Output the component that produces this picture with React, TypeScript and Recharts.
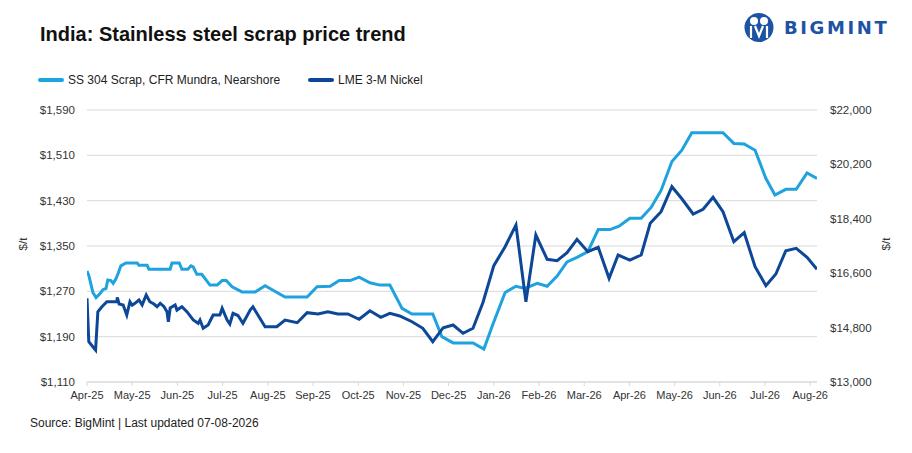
import React from "react";
import { LineChart, Line, XAxis, YAxis, CartesianGrid } from "recharts";

const monthLabels = [
  "Apr-25", "May-25", "Jun-25", "Jul-25", "Aug-25", "Sep-25", "Oct-25", "Nov-25", "Dec-25",
  "Jan-26", "Feb-26", "Mar-26", "Apr-26", "May-26", "Jun-26", "Jul-26", "Aug-26",
];
const leftTicks = [1110, 1190, 1270, 1350, 1430, 1510, 1590];
const rightTicks = [13000, 14800, 16600, 18400, 20200, 22000];

// x = months since Apr-25
const scrapMonths = [
  0, 0.04, 0.13, 0.2, 0.29, 0.35, 0.42, 0.46, 0.53, 0.58, 0.64, 0.69, 0.75, 0.86, 1.11, 1.15,
  1.33, 1.37, 1.84, 1.88, 2.04, 2.1, 2.23, 2.3, 2.35, 2.43, 2.54, 2.72, 2.88, 2.99, 3.08, 3.21,
  3.43, 3.72, 3.94, 4.38, 4.87, 5.09, 5.38, 5.58, 5.82, 6.02, 6.26, 6.48, 6.7, 6.97, 7.19, 7.65,
  7.85, 8.1, 8.54, 8.78, 8.98, 9.25, 9.49, 9.69, 9.96, 10.18, 10.4, 10.62, 10.84, 11.08, 11.31,
  11.57, 11.77, 12.01, 12.26, 12.48, 12.7, 12.94, 13.16, 13.38, 14.07, 14.31, 14.54, 14.78, 15.02,
  15.22, 15.46, 15.69, 15.93, 16.15,
];
const scrapPrices = [
  1306, 1298, 1268, 1259, 1266, 1273, 1275, 1290, 1289, 1284, 1292, 1302, 1315, 1320, 1320, 1316,
  1316, 1309, 1309, 1320, 1320, 1309, 1309, 1315, 1313, 1300, 1300, 1281, 1281, 1289, 1289, 1278,
  1269, 1269, 1280, 1260, 1260, 1278, 1279, 1289, 1289, 1295, 1285, 1281, 1281, 1240, 1230, 1230,
  1190, 1179, 1179, 1168, 1212, 1268, 1279, 1275, 1284, 1279, 1297, 1322, 1330, 1340, 1379,
  1379, 1385, 1399, 1399, 1418, 1448, 1499, 1519, 1550, 1550, 1531, 1530, 1519, 1469,
  1440, 1450, 1450, 1479, 1469,
];

const nickelMonths = [
  0, 0.04, 0.13, 0.19, 0.24, 0.33, 0.44, 0.55, 0.66, 0.67, 0.71, 0.8, 0.88, 0.95, 1.0, 1.06,
  1.15, 1.22, 1.31, 1.39, 1.48, 1.55, 1.62, 1.7, 1.77, 1.8, 1.84, 1.95, 1.99, 2.1, 2.21, 2.35,
  2.46, 2.5, 2.57, 2.68, 2.79, 2.94, 2.99, 3.1, 3.16, 3.23, 3.34, 3.45, 3.61, 3.67, 3.94, 4.2,
  4.38, 4.65, 4.87, 5.11, 5.33, 5.55, 5.77, 6.02, 6.26, 6.5, 6.7, 6.92, 7.19, 7.43, 7.65, 7.88,
  8.1, 8.32, 8.54, 8.76, 9.0, 9.25, 9.49, 9.71, 9.93, 10.18, 10.4, 10.62, 10.84, 11.08, 11.31,
  11.55, 11.75, 12.01, 12.26, 12.46, 12.7, 12.94, 13.16, 13.41, 13.63, 13.85, 14.07, 14.31, 14.54,
  14.78, 15.02, 15.24, 15.46, 15.69, 15.93, 16.15,
];
const nickelPrices = [
  15769, 14333, 14168, 14058, 15326, 15491, 15657, 15657, 15657, 15802, 15581, 15550, 15217, 15657,
  15540, 15604, 15713, 15550, 15878, 15657, 15580, 15491, 15604, 15500, 15326, 14995, 15450, 15547,
  15380, 15491, 15326, 15051, 14942, 15050, 14777, 14886, 15217, 15217, 15438, 15051, 14919, 15273,
  15200, 14942, 15382, 15491, 14830, 14830, 15051, 14962, 15293, 15250, 15326, 15250, 15250, 15075,
  15359, 15140, 15273, 15184, 14995, 14777, 14333, 14796, 14886, 14611, 14777, 15630, 16850, 17477,
  18195, 15657, 17864, 17060, 17013, 17278, 17722, 17311, 17457, 16431, 17202, 17036, 17202, 18251,
  18635, 19462, 19062, 18559, 18714, 19111, 18635, 17642, 17940, 16815, 16186, 16573, 17344, 17424,
  17126, 16729,
];

const scrapData = scrapMonths.map((t, i) => ({ t, scrap: scrapPrices[i] }));
const nickelData = nickelMonths.map((t, i) => ({ t, nickel: nickelPrices[i] }));

const LIGHT = "#1fa3de";
const DARK = "#0d4797";
const FONT = "'Liberation Sans', Arial, sans-serif";
const usd = (v: number) => "$" + v.toLocaleString("en-US");

function Logo() {
  return (
    <div style={{ position: "absolute", left: 744, top: 12, display: "flex", alignItems: "center" }}>
      <svg width={30} height={31} viewBox="0 0 30 31">
        <circle cx={15} cy={15.5} r={14.5} fill="#1d53a3" />
        <circle cx={10} cy={9} r={4} fill="#fff" />
        <circle cx={20} cy={9} r={4} fill="#fff" />
        <path d="M7 14 L7 26 M23 14 L23 26" stroke="#fff" strokeWidth={2.2} />
        <path d="M11 14 L15 24 L19 14" stroke="#fff" strokeWidth={2.2} fill="none" />
      </svg>
      <span
        style={{
          marginLeft: 10,
          fontFamily: "'DejaVu Sans', sans-serif",
          fontWeight: 700,
          fontSize: 18,
          letterSpacing: 2.6,
          color: "#1d53a3",
        }}
      >
        BIGMINT
      </span>
    </div>
  );
}

function LegendItem({ color, label, left, width }: { color: string; label: string; left: number; width: number }) {
  return (
    <div style={{ position: "absolute", left, top: 73, display: "flex", alignItems: "center", width }}>
      <div style={{ width: 26, height: 4, background: color, borderRadius: 2 }} />
      <span style={{ marginLeft: 4, fontSize: 12, color: "#222", whiteSpace: "nowrap" }}>{label}</span>
    </div>
  );
}

export default function App() {
  return (
    <div
      style={{
        position: "absolute",
        left: 0,
        top: 0,
        width: 912,
        height: 453,
        background: "#fff",
        fontFamily: FONT,
        overflow: "hidden",
      }}
    >
      <div style={{ position: "absolute", left: 40, top: 23, fontSize: 20, fontWeight: 700, color: "#111" }}>
        India: Stainless steel scrap price trend
      </div>
      <Logo />
      <LegendItem color={LIGHT} label="SS 304 Scrap, CFR Mundra, Nearshore" left={38} width={260} />
      <LegendItem color={DARK} label="LME 3-M Nickel" left={308} width={140} />

      <div style={{ position: "absolute", left: 0, top: 0 }}>
        <LineChart width={912} height={453} margin={{ top: 110, right: 0, bottom: 41, left: 0 }}>
          <CartesianGrid yAxisId="left" vertical={false} stroke="#d9d9d9" />
          <XAxis
            dataKey="t"
            type="number"
            domain={[0, 16.15]}
            ticks={monthLabels.map((_, i) => i)}
            tickFormatter={(v: number) => monthLabels[v] ?? ""}
            interval={0}
            height={30}
            stroke="#d9d9d9"
            tickSize={4}
            tickMargin={5}
            tick={{ fill: "#333", fontSize: 11, fontFamily: FONT }}
            allowDataOverflow
          />
          <YAxis
            yAxisId="left"
            orientation="left"
            width={87}
            domain={[1110, 1590]}
            ticks={leftTicks}
            tickFormatter={usd}
            axisLine={false}
            tickLine={false}
            tickMargin={6}
            tick={{ fill: "#333", fontSize: 11.5, fontFamily: FONT }}
          />
          <YAxis
            yAxisId="right"
            orientation="right"
            width={95}
            domain={[13000, 22000]}
            ticks={rightTicks}
            tickFormatter={usd}
            axisLine={false}
            tickLine={false}
            tickMargin={7}
            tick={{ fill: "#333", fontSize: 11.5, fontFamily: FONT }}
          />
          <Line
            yAxisId="left"
            data={scrapData}
            dataKey="scrap"
            type="linear"
            stroke={LIGHT}
            strokeWidth={3}
            dot={false}
            isAnimationActive={false}
          />
          <Line
            yAxisId="right"
            data={nickelData}
            dataKey="nickel"
            type="linear"
            stroke={DARK}
            strokeWidth={3}
            dot={false}
            isAnimationActive={false}
          />
        </LineChart>
      </div>

      <div
        style={{
          position: "absolute",
          left: 17,
          top: 238,
          fontSize: 11.5,
          color: "#333",
          transform: "rotate(-90deg)",
        }}
      >
        $/t
      </div>
      <div
        style={{
          position: "absolute",
          left: 880,
          top: 238,
          fontSize: 11.5,
          color: "#333",
          transform: "rotate(-90deg)",
        }}
      >
        $/t
      </div>

      <div style={{ position: "absolute", left: 30, top: 416, fontSize: 12, color: "#222" }}>
        Source: BigMint | Last updated 07-08-2026
      </div>
    </div>
  );
}
